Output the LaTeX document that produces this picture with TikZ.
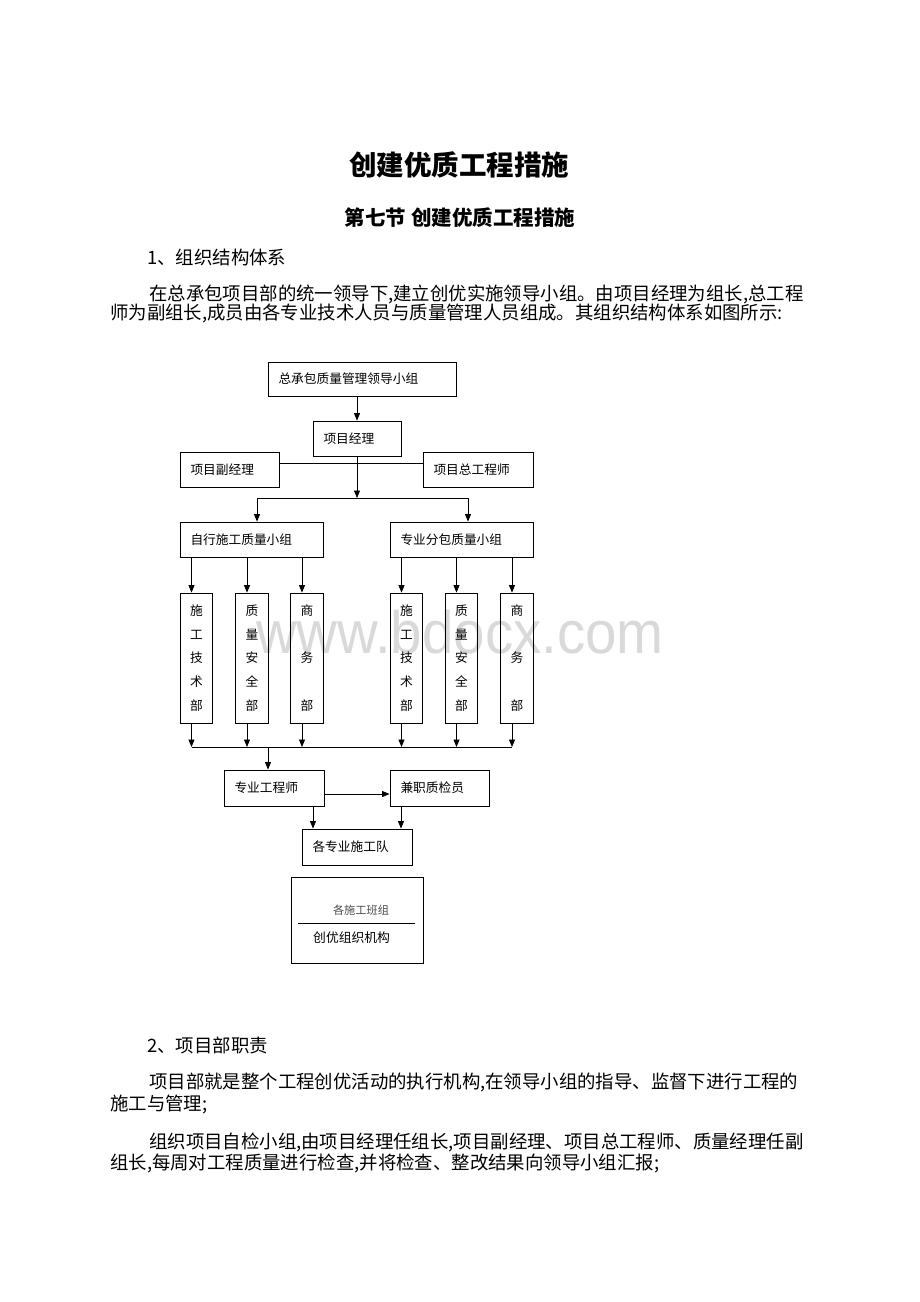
\documentclass[tikz,border=0pt]{standalone}
\usepackage{fontspec}
\setmainfont{Liberation Serif}
\newfontfamily\cjk{Noto Sans CJK SC}
\newfontfamily\wmfont[FakeStretch=0.94]{Liberation Sans}
\usetikzlibrary{arrows.meta}
\tikzset{
  body/.style={inner sep=0pt, anchor=base west, font=\cjk\fontsize{18.4}{20}\selectfont},
  box/.style={draw, line width=0.8pt, inner xsep=10.5pt, inner ysep=0pt, align=left,
    font=\cjk\fontsize{12.7}{14}\selectfont},
  tall/.style={draw, line width=0.8pt, inner sep=0pt, align=center,
    minimum width=32.5pt, minimum height=130pt, font=\cjk\fontsize{12.7}{23.7}\selectfont},
  arr/.style={line width=0.8pt, -{Triangle[length=7.5pt,width=6pt]}},
  ln/.style={line width=0.8pt}
}
\begin{document}
\begin{tikzpicture}[x=1pt,y=-1pt]
\useasboundingbox (0,0) rectangle (920,1302);
\fill[white] (0,0) rectangle (920,1302);

% watermark
\node[inner sep=0pt, anchor=base west, text=black!15, font=\wmfont\fontsize{60}{62}\selectfont] (wm) at (256,653) {www.bdocx.com};

% headings and text
\node[inner sep=0pt, anchor=base, font=\cjk\bfseries\fontsize{27.5}{30}\selectfont] (title) at (459,175.5) {创建优质工程措施};
\node[inner sep=0pt, anchor=base, font=\cjk\bfseries\fontsize{20.5}{22}\selectfont] (sub) at (460,225) {第七节 创建优质工程措施};
\node[body] (h1) at (147,264) {1、组织结构体系};
\node[body] (p1a) at (149,300) {在总承包项目部的统一领导下,建立创优实施领导小组。由项目经理为组长,总工程};
\node[body] (p1b) at (110,319) {师为副组长,成员由各专业技术人员与质量管理人员组成。其组织结构体系如图所示:};
\node[body] (h2) at (147,1052) {2、项目部职责};
\node[body] (p2a) at (149,1088) {项目部就是整个工程创优活动的执行机构,在领导小组的指导、监督下进行工程的};
\node[body] (p2b) at (110,1110) {施工与管理;};
\node[body] (p3a) at (149,1148) {组织项目自检小组,由项目经理任组长,项目副经理、项目总工程师、质量经理任副};
\node[body] (p3b) at (110,1169) {组长,每周对工程质量进行检查,并将检查、整改结果向领导小组汇报;};

% chart boxes
\node[box, text width=167pt, minimum height=34pt] (lead) at (362,379) {总承包质量管理领导小组};
\node[box, text width=67pt, minimum height=35pt] (pm) at (357,438.5) {项目经理};
\node[box, text width=78pt, minimum height=35pt] (dpm) at (229.5,469.5) {项目副经理};
\node[box, text width=89pt, minimum height=35pt] (ce) at (478,469.5) {项目总工程师};
\node[box, text width=122pt, minimum height=35pt] (g1) at (251.5,539.5) {自行施工质量小组};
\node[box, text width=122pt, minimum height=35pt] (g2) at (461.5,539.5) {专业分包质量小组};

\node[tall] (t1) at (196.5,658) {施\\工\\技\\术\\部};
\node[tall] (t2) at (252,658) {质\\量\\安\\全\\部};
\node[tall] (t3) at (307,658) {商\\[23.7pt]务\\[23.7pt]部};
\node[tall] (t4) at (406.5,658) {施\\工\\技\\术\\部};
\node[tall] (t5) at (461.5,658) {质\\量\\安\\全\\部};
\node[tall] (t6) at (517,658) {商\\[23.7pt]务\\[23.7pt]部};

\node[box, text width=79pt, minimum height=36pt] (eng) at (274,788) {专业工程师};
\node[box, text width=78pt, minimum height=36pt] (insp) at (439.5,788) {兼职质检员};
\node[box, text width=89pt, minimum height=36pt] (team) at (357,847) {各专业施工队};

% bottom framed legend box
\node[draw, line width=0.8pt, minimum width=132pt, minimum height=86pt, inner sep=0pt] (frame) at (357,920) {};
\node[inner sep=0pt, text=black!70, font=\cjk\fontsize{11.2}{12}\selectfont] (crew) at (361,910) {各施工班组};
\coordinate (rl) at (298,923);
\coordinate (rr) at (415,923);
\draw[ln] (rl) -- (rr);
\node[inner sep=0pt, anchor=west, font=\cjk\fontsize{12.8}{14}\selectfont] (cap) at (313,938) {创优组织机构};

% connectors
\draw[arr] (lead.south -| pm.north) -- (pm.north);
\draw[ln] (dpm.east |- 0,463) -- (ce.west |- 0,463);
\coordinate (bt) at (357,498);
\coordinate (bl) at (257,498);
\coordinate (br) at (468,498);
\draw[arr] (pm.south) -- (bt);
\draw[ln] (bl) -- (br);
\draw[arr] (bl) -- (bl |- g1.north);
\draw[arr] (br) -- (br |- g2.north);

\foreach \t/\g in {t1/g1,t2/g1,t3/g1,t4/g2,t5/g2,t6/g2}{
  \draw[arr] ([xshift=-5pt]\t.north |- \g.south) -- ([xshift=-5pt]\t.north);
  \draw[arr] ([xshift=-5pt]\t.south) -- ([xshift=-5pt]\t.south |- 0,747);
}
\coordinate (ul) at (191.5,747);
\coordinate (ur) at (512,747);
\coordinate (um) at (268,747);
\draw[ln] (ul) -- (ur);
\draw[arr] (um) -- (um |- eng.north);
\draw[arr] ([yshift=-6pt]eng.east) -- ([yshift=-6pt]insp.west);
\draw[arr] (eng.south -| 313,0) -- (team.north -| 313,0);
\draw[arr] (insp.south -| 401,0) -- (team.north -| 401,0);
\end{tikzpicture}
\end{document}
